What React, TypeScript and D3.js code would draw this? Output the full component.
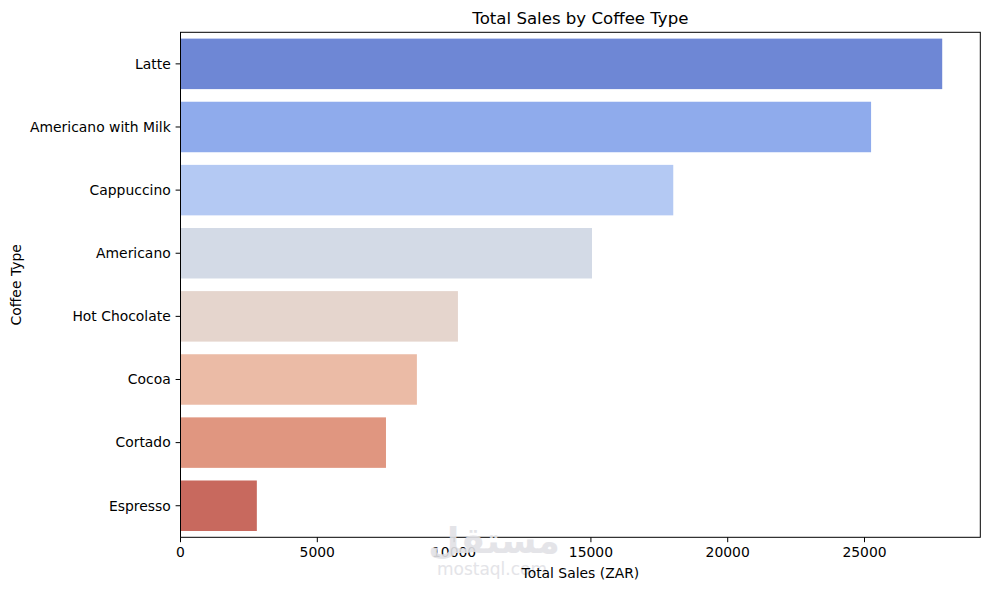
import React from "react";
import * as d3 from "d3";

const categories = [
  "Latte",
  "Americano with Milk",
  "Cappuccino",
  "Americano",
  "Hot Chocolate",
  "Cocoa",
  "Cortado",
  "Espresso",
];
const sales = [27840, 25240, 18010, 15040, 10140, 8640, 7510, 2790];
const barColors = [
  "#6e87d5",
  "#8fabec",
  "#b4c9f3",
  "#d3dae6",
  "#e5d5cd",
  "#ebbba6",
  "#e09680",
  "#c8695e",
];
const xTicks = [0, 5000, 10000, 15000, 20000, 25000];

const W = 989;
const H = 590;
const M = { left: 180.5, right: 980.3, top: 32.3, bottom: 537.3 };
const FONT = "DejaVu Sans, sans-serif";
const FS = 13.9;

export default function App() {
  const xMax = d3.max(sales)! * 1.05;
  const x = d3.scaleLinear().domain([0, xMax]).range([M.left, M.right]);
  const y = d3
    .scaleBand<string>()
    .domain(categories)
    .range([M.top, M.bottom])
    .paddingInner(0.2)
    .paddingOuter(0.1);
  const cx = (M.left + M.right) / 2;
  const cy = (M.top + M.bottom) / 2;

  return (
    <svg
      width={W}
      height={H}
      style={{ position: "absolute", left: 0, top: 0, background: "#fff" }}
      fontFamily={FONT}
    >
      <rect x={0} y={0} width={W} height={H} fill="#fff" />
      {categories.map((c, i) => (
        <rect
          key={c}
          x={x(0)}
          y={y(c)!}
          width={x(sales[i]) - x(0)}
          height={y.bandwidth()}
          fill={barColors[i]}
        />
      ))}
      {/* frame */}
      <rect
        x={M.left}
        y={M.top}
        width={M.right - M.left}
        height={M.bottom - M.top}
        fill="none"
        stroke="#000"
        strokeWidth={1}
      />
      {/* y ticks */}
      {categories.map((c) => {
        const yy = y(c)! + y.bandwidth() / 2;
        return (
          <g key={c}>
            <line x1={M.left - 4.9} x2={M.left} y1={yy} y2={yy} stroke="#000" strokeWidth={1} />
            <text
              x={M.left - 9.8}
              y={yy}
              dy="0.35em"
              textAnchor="end"
              fontSize={FS}
              fill="#000"
            >
              {c}
            </text>
          </g>
        );
      })}
      {/* x ticks */}
      {xTicks.map((t) => (
        <g key={t}>
          <line x1={x(t)} x2={x(t)} y1={M.bottom} y2={M.bottom + 4.9} stroke="#000" strokeWidth={1} />
          <text x={x(t)} y={M.bottom + 19.8} textAnchor="middle" fontSize={FS} fill="#000">
            {t}
          </text>
        </g>
      ))}
      {/* watermark */}
      <g fill="#e2e2e6" opacity={0.9}>
        <text x={494} y={553} textAnchor="middle" fontSize={36} fontWeight="bold" fontFamily="DejaVu Sans">
          مستقل
        </text>
        <text x={492} y={575} textAnchor="middle" fontSize={17} fontFamily="DejaVu Sans">
          mostaql.com
        </text>
      </g>
      {/* labels */}
      <text x={cx} y={577.5} textAnchor="middle" fontSize={FS} fill="#000">
        Total Sales (ZAR)
      </text>
      <text
        transform={`translate(20.5,${cy}) rotate(-90)`}
        textAnchor="middle"
        fontSize={FS}
        fill="#000"
      >
        Coffee Type
      </text>
      <text x={cx} y={24} textAnchor="middle" fontSize={16.6} fill="#000">
        Total Sales by Coffee Type
      </text>
    </svg>
  );
}
